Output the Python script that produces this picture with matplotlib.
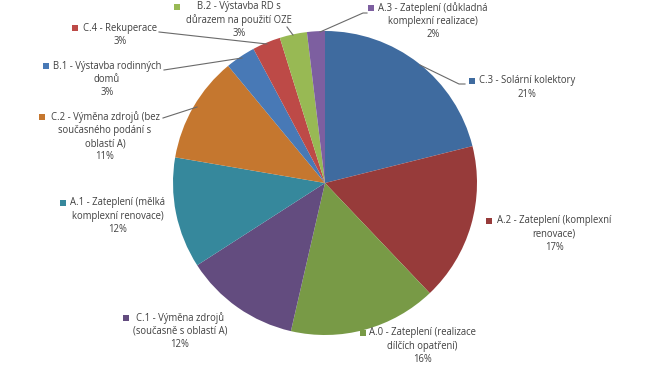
import matplotlib
matplotlib.use("Agg")
import matplotlib.pyplot as plt
from matplotlib.patches import Rectangle

plt.rcParams['font.family'] = ['Open Sans', 'DejaVu Sans']

categories = [
    "C.3 - Solární kolektory",
    "A.2 - Zateplení (komplexní\nrenovace)",
    "A.0 - Zateplení (realizace\ndílčích opatření)",
    "C.1 - Výměna zdrojů\n(současně s oblastí A)",
    "A.1 - Zateplení (mělká\nkomplexní renovace)",
    "C.2 - Výměna zdrojů (bez\nsoučasného podání s\noblastí A)",
    "B.1 - Výstavba rodinných\ndomů",
    "C.4 - Rekuperace",
    "B.2 - Výstavba RD s\ndůrazem na použití OZE",
    "A.3 - Zateplení (důkladná\nkomplexní realizace)",
]
values = [21.1, 16.8, 15.7, 12.3, 11.8, 11.3, 3.2, 3.0, 2.9, 1.9]
colors = ["#3F6B9F", "#973B3A", "#789A46", "#634C7F", "#36889C",
          "#C5772F", "#4879B6", "#BD4A47", "#98B954", "#7D5FA0"]

W, H = 650, 366
fig = plt.figure(figsize=(6.5, 3.66), dpi=100)
ax = fig.add_axes([0, 0, 1, 1])

cx, cy, r = 325, H - 183, 152
ax.pie(values, colors=colors, startangle=90, counterclock=False,
       center=(cx, cy), radius=r, frame=True,
       wedgeprops=dict(linewidth=0))
ax.set_xlim(0, W)
ax.set_ylim(0, H)
ax.axis('off')

total = sum(values)
# label layout in image pixel coords: (text center x, first-line y, square x)
layout = [
    (527, 81, 472),
    (554, 221, 489),
    (422, 333, 363),
    (180, 318, 126),
    (118, 203, 63),
    (105, 117, 42),
    (107, 66, 46),
    (120, 28, 75),
    (239, 7, 177),
    (433, 8, 371),
]
lh = 13.3
tc = "#404040"
for cat, v, col, (tx, ty, sx) in zip(categories, values, colors, layout):
    lines = cat.split("\n") + [f"{round(v / total * 100):.0f}%"]
    for i, ln in enumerate(lines):
        ax.text(tx, H - (ty + i * lh), ln, ha='center', va='center',
                fontsize=6.85, color=tc)
    ax.add_patch(Rectangle((sx - 3, H - ty - 3), 6, 6, color=col, lw=0))

leaders = [
    [(320, 32), (363, 13), (367, 13)],
    [(420, 65), (459, 84), (465, 84)],
    [(293, 35), (287, 27)],
    [(159, 32), (267, 44)],
    [(164, 70), (242, 58)],
    [(163, 118), (197, 107)],
]
for pts in leaders:
    xs = [p[0] for p in pts]
    ys = [H - p[1] for p in pts]
    ax.plot(xs, ys, color="#6a6a6a", lw=0.8)

fig.savefig("out.png", dpi=100)
